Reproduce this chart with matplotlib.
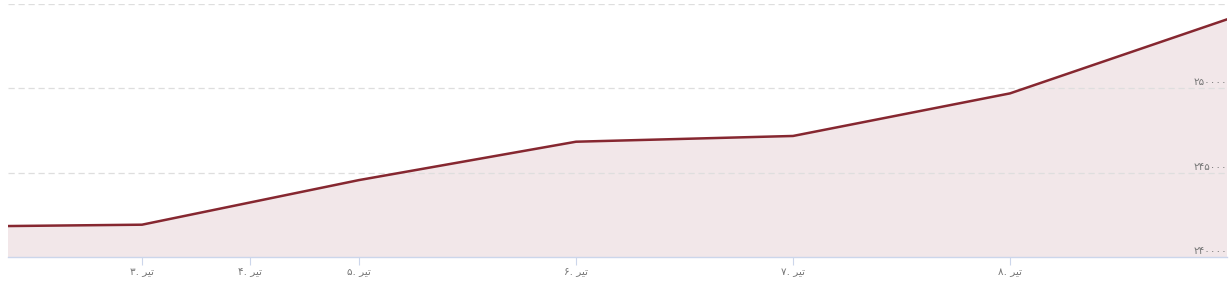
import matplotlib
matplotlib.use("Agg")
import matplotlib.pyplot as plt
import matplotlib.transforms as mtransforms

# points on an ordinal axis (one slot per trading day)
point_idx = [0, 1, 2, 3, 4, 5, 6]
values = [241800, 241930, 244570, 246840, 247180, 249700, 254080]

# x ticks: day number + month name (shaped, visual order)
month = "\uFEAE\uFBFF\uFE97"  # تیر
tick_pos = [1, 1.5, 2, 3, 4, 5]
tick_days = ["۳", "۴", "۵", "۶", "۷", "۸"]
tick_labels = [d + ". " + month for d in tick_days]

y_ticks = [240000, 245000, 250000, 255000]
y_labels = ["۲۴۰۰۰۰", "۲۴۵۰۰۰", "۲۵۰۰۰۰", ""]

line_color = "#862730"
fill_color = "#f2e7e9"
text_color = "#777777"

plt.rcParams['font.family'] = ['DejaVu Sans']

fig = plt.figure(figsize=(12.32, 3.0), dpi=100)
ax = fig.add_axes([8 / 1232, 0.1423, 1219 / 1232, 0.845])

ax.fill_between(point_idx, values, 240000, color=fill_color, lw=0, zorder=1)
ax.plot(point_idx, values, color=line_color, lw=1.8, zorder=3)

ax.set_xlim(0.3825, 6)
ax.set_ylim(240000, 255000)

for v in y_ticks[1:]:
    ax.axhline(v, color="#dedede", lw=0.9, ls=(0, (5, 3)), zorder=2)

trans = mtransforms.blended_transform_factory(ax.transAxes, ax.transData)
offset = mtransforms.offset_copy(trans, fig=fig, x=0, y=1, units='dots')
for v, lab in zip(y_ticks, y_labels):
    if lab:
        ax.text(1.0, v, lab, transform=offset, ha='right', va='bottom',
                fontsize=7.5, color=text_color, zorder=4)

ax.set_yticks([])
ax.set_xticks(tick_pos)
ax.set_xticklabels(tick_labels, fontsize=7.5, color=text_color)
ax.tick_params(axis='x', length=6, width=0.8, color="#ccd6eb", pad=1)

for s in ['top', 'right', 'left']:
    ax.spines[s].set_visible(False)
ax.spines['bottom'].set_color("#ccd6eb")
ax.spines['bottom'].set_linewidth(1)

fig.savefig("out.png", dpi=100)
